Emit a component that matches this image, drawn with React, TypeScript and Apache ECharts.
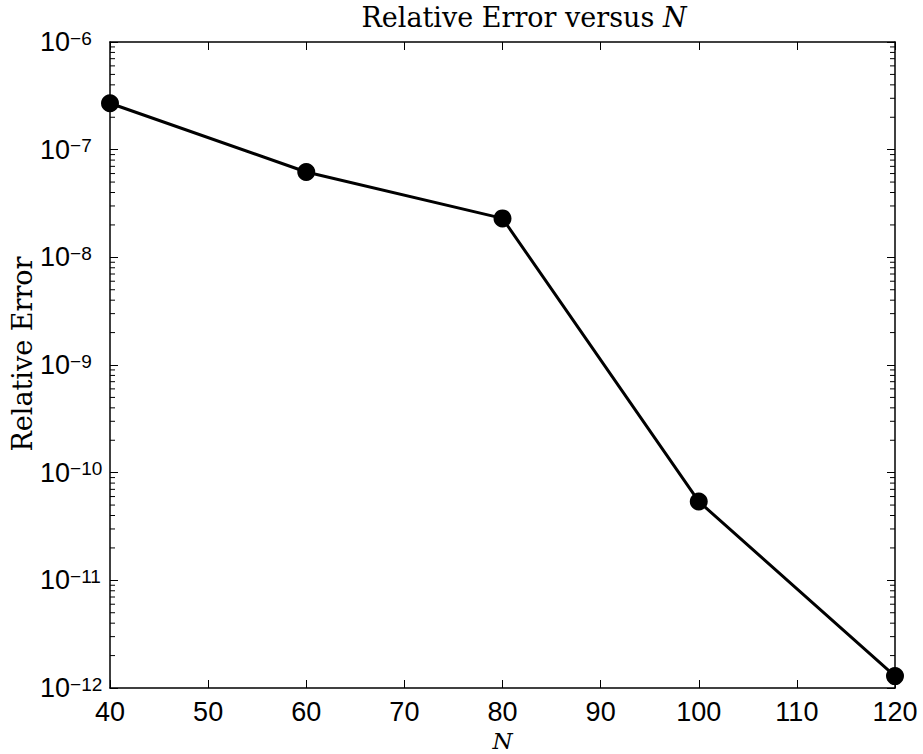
import React, { useEffect, useRef } from "react";
import * as echarts from "echarts";

const nValues = [40, 60, 80, 100, 120];
const relErrors = [2.7e-7, 6.2e-8, 2.3e-8, 5.4e-11, 1.29e-12];
const xMin = 40;
const xMax = 120;
const xStep = 10;
const yMin = 1e-12;
const yMax = 1e-6;
const decadeExponents = [-12, -11, -10, -9, -8, -7];
const minorMultipliers = [2, 3, 4, 5, 6, 7, 8, 9];
const titleMain = "Relative Error versus ";
const titleVar = "N";
const yName = "Relative Error";
const xName = "N";

const minorTickValues: number[] = [];
decadeExponents.forEach((e) => {
  minorMultipliers.forEach((m) => {
    minorTickValues.push(m * Math.pow(10, e));
  });
});

const SERIF = "'DejaVu Serif', serif";
const SANS = "'Liberation Sans', Arial, sans-serif";

export default function App() {
  const ref = useRef<HTMLDivElement>(null);
  useEffect(() => {
    if (!ref.current) return;
    const chart = echarts.init(ref.current, null, { renderer: "svg" });
    const axisLine = { show: true, onZero: false, lineStyle: { color: "#000", width: 1.5 } };
    const tick = { show: true, inside: true, length: 8, lineStyle: { color: "#000", width: 1 } };
    const yLabel = {
      show: true,
      align: "left",
      margin: 70,
      formatter: (v: number) => {
        const e = Math.round(Math.log10(v));
        return "{b|10}{s|\u2212" + Math.abs(e) + "}";
      },
      rich: {
        b: { fontFamily: SANS, fontSize: 27, lineHeight: 27, color: "#000" },
        s: { fontFamily: SANS, fontSize: 19, lineHeight: 3, verticalAlign: "top", color: "#000" },
      },
    };
    chart.setOption({
      animation: false,
      backgroundColor: "#fff",
      grid: { left: 110, right: 28, top: 42, bottom: 66, containLabel: false, outerBoundsMode: "none" },
      xAxis: [
        {
          type: "value",
          min: xMin,
          max: xMax,
          interval: xStep,
          position: "bottom",
          axisLine,
          axisTick: tick,
          splitLine: { show: false },
          axisLabel: { show: true, margin: 10, fontFamily: SANS, fontSize: 27, color: "#000" },
          name: xName,
          nameLocation: "middle",
          nameGap: 34,
          nameTextStyle: { fontFamily: SERIF, fontStyle: "italic", fontSize: 23, lineHeight: 23, color: "#000" },
        },
        {
          type: "value",
          min: xMin,
          max: xMax,
          interval: xStep,
          position: "top",
          axisLine,
          axisTick: tick,
          splitLine: { show: false },
          axisLabel: { show: false },
        },
      ],
      yAxis: [
        {
          type: "log",
          logBase: 10,
          min: yMin,
          max: yMax,
          splitNumber: 6,
          position: "left",
          axisLine,
          axisTick: tick,
          splitLine: { show: false },
          axisLabel: yLabel,
        },
        {
          type: "log",
          logBase: 10,
          min: yMin,
          max: yMax,
          splitNumber: 6,
          position: "right",
          axisLine,
          axisTick: tick,
          splitLine: { show: false },
          axisLabel: { show: false },
        },
      ],
      graphic: [
        {
          type: "text",
          x: 524,
          y: 17,
          style: {
            text: "{a|" + titleMain + "}{i|" + titleVar + "}",
            align: "center",
            verticalAlign: "middle",
            rich: {
              a: { fontFamily: SERIF, fontSize: 27, fill: "#000", color: "#000" },
              i: { fontFamily: SERIF, fontSize: 27, fontStyle: "italic", fill: "#000", color: "#000" },
            },
          },
        },
        {
          type: "text",
          x: 22,
          y: 354,
          rotation: Math.PI / 2,
          style: {
            text: yName,
            fontFamily: SERIF,
            fontSize: 27,
            fill: "#000",
            align: "center",
            verticalAlign: "middle",
          },
        },
      ],
      series: [
        {
          type: "custom",
          xAxisIndex: 0,
          yAxisIndex: 0,
          silent: true,
          data: minorTickValues.map((v) => [xMin, v]),
          renderItem: (params: any, api: any) => {
            const v = api.value(1);
            const pl = api.coord([xMin, v]);
            const pr = api.coord([xMax, v]);
            return {
              type: "group",
              children: [
                { type: "line", shape: { x1: pl[0], y1: pl[1], x2: pl[0] + 5, y2: pl[1] }, style: { stroke: "#000", lineWidth: 1 } },
                { type: "line", shape: { x1: pr[0] - 5, y1: pr[1], x2: pr[0], y2: pr[1] }, style: { stroke: "#000", lineWidth: 1 } },
              ],
            };
          },
        },
        {
          type: "line",
          xAxisIndex: 0,
          yAxisIndex: 0,
          data: nValues.map((n, i) => [n, relErrors[i]]),
          symbol: "circle",
          symbolSize: 18,
          showSymbol: true,
          clip: false,
          lineStyle: { color: "#000", width: 3 },
          itemStyle: { color: "#000" },
          z: 5,
        },
      ],
    });
    return () => chart.dispose();
  }, []);
  return <div ref={ref} style={{ position: "absolute", left: 0, top: 0, width: 923, height: 754 }} />;
}
